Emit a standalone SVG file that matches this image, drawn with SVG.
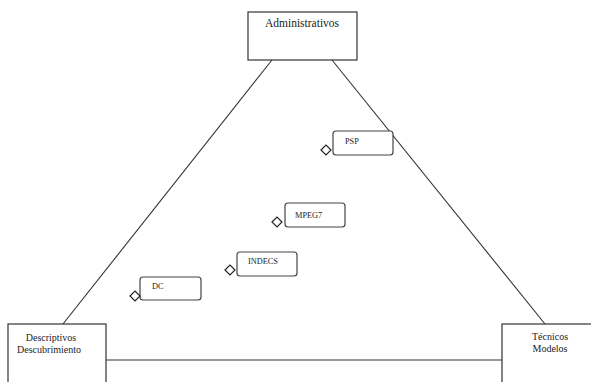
<svg xmlns="http://www.w3.org/2000/svg" width="591" height="382" viewBox="0 0 591 382">
<style>
.box{fill:#fff;stroke:#333;stroke-width:1.2}
.sm{fill:#fff;stroke:#444;stroke-width:1.2}
.dia{fill:#fff;stroke:#222;stroke-width:1.2}
.ln{stroke:#333;stroke-width:1.1;fill:none}
.t{font-family:"Liberation Serif",serif;font-size:10px;fill:#222}
.ts{font-family:"Liberation Serif",serif;font-size:8.3px;fill:#222}
</style>
<rect width="591" height="382" fill="#fff"/>
<g id="connectors">
<line class="ln" x1="272" y1="60" x2="63" y2="324"/>
<line class="ln" x1="332" y1="60" x2="545" y2="324"/>
<line class="ln" x1="106" y1="360" x2="502" y2="360"/>
</g>
<g id="administrativos">
<rect class="box" x="248" y="12" width="109" height="48"/>
<text class="t" x="302" y="27" text-anchor="middle" style="font-size:11.5px">Administrativos</text>
</g>
<g id="descriptivos">
<rect class="box" x="8" y="324" width="98" height="70"/>
<text class="t" x="51" y="341" text-anchor="middle">Descriptivos</text>
<text class="t" x="49" y="353" text-anchor="middle">Descubrimiento</text>
</g>
<g id="tecnicos">
<rect class="box" x="502" y="324" width="100" height="70"/>
<text class="t" x="550" y="340" text-anchor="middle">Técnicos</text>
<text class="t" x="550" y="352" text-anchor="middle">Modelos</text>
</g>
<g id="psp">
<rect class="sm" x="333" y="131" width="60" height="24" rx="3"/>
<path class="dia" d="M321,150 L326,145 L331,150 L326,155 Z"/>
<text class="ts" x="345" y="144">PSP</text>
</g>
<g id="mpeg7">
<rect class="sm" x="285" y="203" width="60" height="24" rx="3"/>
<path class="dia" d="M272,222 L277,217 L282,222 L277,227 Z"/>
<text class="ts" x="295" y="218">MPEG7</text>
</g>
<g id="indecs">
<rect class="sm" x="237" y="252" width="60" height="24" rx="3"/>
<path class="dia" d="M225,270 L230,265 L235,270 L230,275 Z"/>
<text class="ts" x="248" y="264">INDECS</text>
</g>
<g id="dc">
<rect class="sm" x="140" y="277" width="61" height="23" rx="3"/>
<path class="dia" d="M130,296 L135,291 L140,296 L135,301 Z"/>
<text class="ts" x="152" y="289">DC</text>
</g>
</svg>
